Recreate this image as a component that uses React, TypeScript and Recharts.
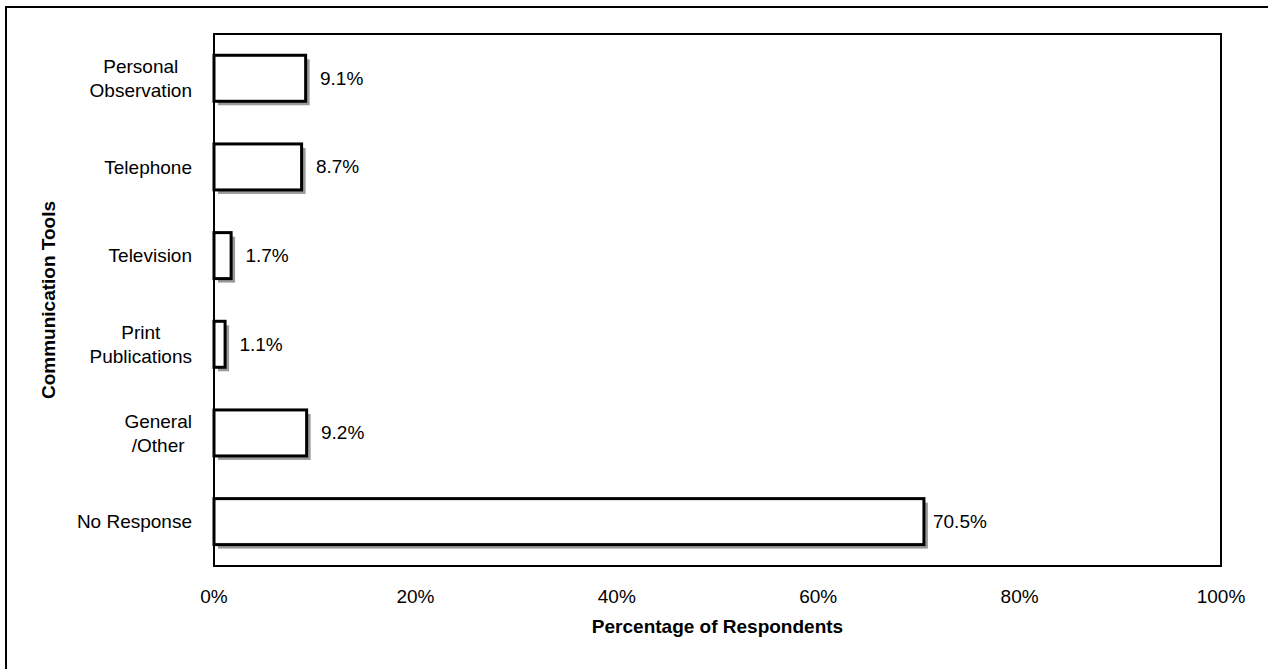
import React from "react";
import { BarChart, Bar, XAxis, YAxis, ReferenceArea, LabelList, Label } from "recharts";

const categories = ["Personal\nObservation", "Telephone", "Television", "Print\nPublications", "General\n/Other", "No Response"];
const values = [9.1, 8.7, 1.7, 1.1, 9.2, 70.5];
const xTicks = [0, 20, 40, 60, 80, 100];

const data = categories.map((c, i) => ({ name: c, value: values[i] }));

const FONT = "'Liberation Sans', Arial, sans-serif";
const FS = 19;

let ctx: CanvasRenderingContext2D | null = null;
function measure(t: string, bold = false) {
  if (!ctx) ctx = document.createElement("canvas").getContext("2d");
  if (!ctx) return t.length * FS * 0.55;
  ctx.font = `${bold ? "bold " : ""}${FS}px ${FONT}`;
  return ctx.measureText(t).width;
}

const YTick = (props: any) => {
  const { x, y, payload } = props;
  const lines = String(payload.value).split("\n");
  const maxW = Math.max(...lines.map((l) => measure(l)));
  const cx = x - maxW / 2;
  const lh = 24;
  const startY = y - ((lines.length - 1) * lh) / 2;
  return (
    <g>
      {lines.map((l, i) => (
        <text key={i} x={cx} y={startY + i * lh} textAnchor="middle" dominantBaseline="central" fontFamily={FONT} fontSize={FS} fill="#000">
          {l}
        </text>
      ))}
    </g>
  );
};

const BarShape = (props: any) => {
  const { x, y, width, height } = props;
  if (width == null || height == null) return null;
  return (
    <g>
      <rect x={x + 4} y={y + 4} width={Math.max(width, 0)} height={height} fill="#9a9a9a" />
      <rect x={x} y={y} width={Math.max(width, 0)} height={height} fill="#fff" stroke="#000" strokeWidth={3} />
    </g>
  );
};

const ValueLabel = (props: any) => {
  const { x, y, width, height, value } = props;
  return (
    <text x={x + width + 36} y={y + height / 2} textAnchor="middle" dominantBaseline="central" fontFamily={FONT} fontSize={FS} fill="#000">
      {`${Number(value).toFixed(1)}%`}
    </text>
  );
};

const YTitle = (props: any) => {
  const vb = props.viewBox || {};
  const cx = vb.x + 34;
  const cy = vb.y + vb.height / 2;
  return (
    <text x={cx} y={cy} transform={`rotate(-90, ${cx}, ${cy})`} textAnchor="middle" dominantBaseline="central" fontFamily={FONT} fontSize={FS} fontWeight="bold" fill="#000">
      Communication Tools
    </text>
  );
};

export default function App() {
  return (
    <div style={{ position: "absolute", left: 0, top: 0, width: 1268, height: 669, background: "#fff", overflow: "hidden" }}>
      <div style={{ position: "absolute", left: 5, top: 6, width: 1300, height: 700, borderTop: "2px solid #000", borderLeft: "2px solid #000", boxSizing: "border-box" }} />
      <div style={{ position: "absolute", left: 0, top: 0 }}>
        <BarChart
          width={1268}
          height={669}
          data={data}
          layout="vertical"
          margin={{ top: 34, right: 47, bottom: 53, left: 14 }}
          barCategoryGap="24%"
        >
          <XAxis
            type="number"
            domain={[0, 100]}
            ticks={xTicks}
            tickFormatter={(v: number) => `${v}%`}
            axisLine={false}
            tickLine={false}
            tickSize={0}
            tickMargin={24}
            height={50}
            interval={0}
            tick={{ fontFamily: FONT, fontSize: FS, fill: "#000" }}
          >
            <Label value="Percentage of Respondents" position="bottom" offset={4} style={{ fontFamily: FONT, fontSize: FS, fontWeight: "bold", fill: "#000" }} />
          </XAxis>
          <YAxis
            type="category"
            dataKey="name"
            width={200}
            axisLine={false}
            tickLine={false}
            tickSize={0}
            tickMargin={22}
            interval={0}
            tick={<YTick />}
          >
            <Label content={<YTitle />} />
          </YAxis>
          <ReferenceArea x1={0} x2={100} fill="none" stroke="#000" strokeWidth={2} ifOverflow="visible" />
          <Bar dataKey="value" isAnimationActive={false} shape={<BarShape />}>
            <LabelList dataKey="value" content={<ValueLabel />} />
          </Bar>
        </BarChart>
      </div>
    </div>
  );
}
